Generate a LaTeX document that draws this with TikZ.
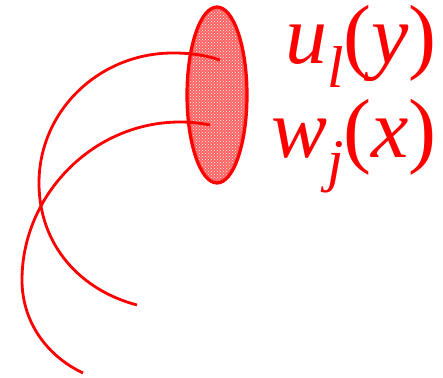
\documentclass[tikz,border=0pt]{standalone}
\usepackage{fontspec}
\setmainfont{Liberation Serif}
\usetikzlibrary{shapes.geometric,patterns}
\definecolor{pr}{RGB}{255,0,0}
\tikzset{
  setshape/.style={ellipse,draw=pr,line width=3.2pt,fill=pr!62,minimum width=60pt,minimum height=176pt,inner sep=0pt},
  curve/.style={draw=pr,line width=2.8pt},
  lbl/.style={text=pr,inner sep=0pt,anchor=base east,font=\fontsize{84}{84}\selectfont}
}
\newcommand{\sbs}[1]{\raisebox{-23pt}{\fontsize{59}{59}\selectfont\textit{#1}}}
\begin{document}
\begin{tikzpicture}[x=1pt,y=-1pt]
\useasboundingbox (0,0) rectangle (443,377);
\node[setshape] (set) at (217,95) {};
\fill[pattern=crosshatch dots,pattern color=white] (217,95) ellipse [x radius=27pt,y radius=85pt];
\coordinate (a0) at (220,60);
\coordinate (b0) at (210,125);
\coordinate (a3) at (137,305);
\coordinate (b3) at (83,373);
\draw[curve] (a0) .. controls (205,55) and (190,53) .. (173,53)
  .. controls (99,53) and (39,111) .. (39,183)
  .. controls (39,245) and (80,290) .. (a3);
\draw[curve] (b0) .. controls (200,123) and (190,122) .. (180,122)
  .. controls (93,122) and (22,195) .. (22,280)
  .. controls (22,320) and (45,355) .. (b3);
\node[lbl] (u) at (437,64) {\textit{u}\sbs{l}(\textit{y})};
\node[lbl] (w) at (437,157) {\textit{w}\sbs{j}(\textit{x})};
\end{tikzpicture}
\end{document}
